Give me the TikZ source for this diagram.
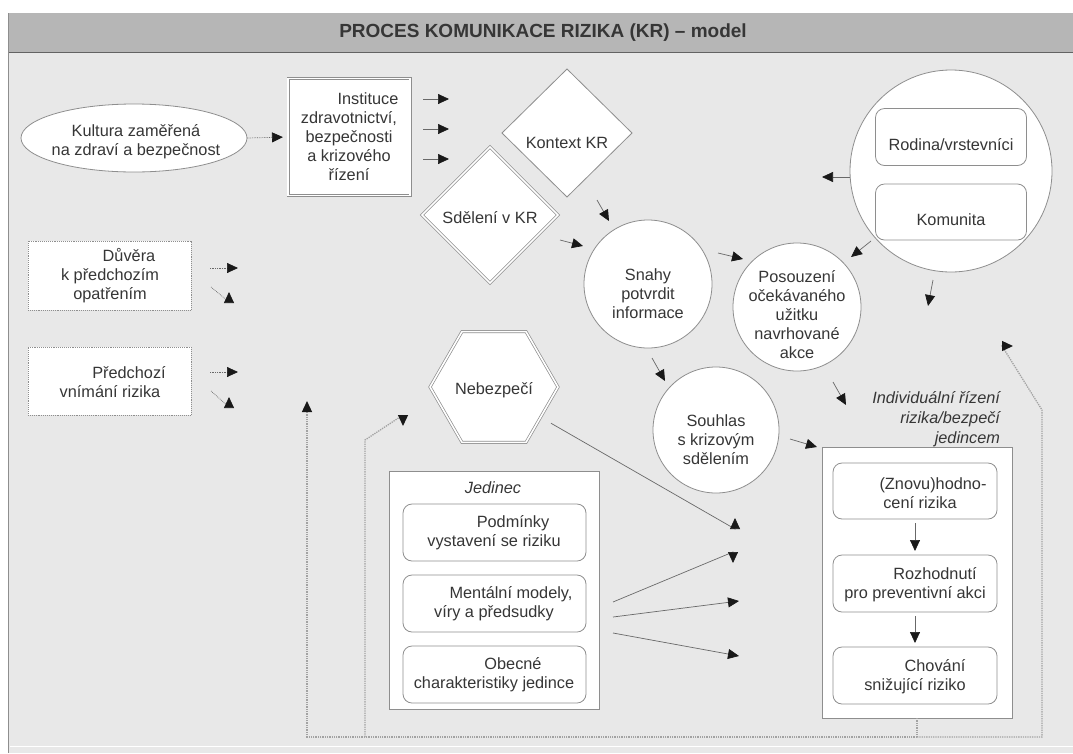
\documentclass[tikz,border=0pt]{standalone}
\usepackage{fontspec}
\setmainfont{Liberation Sans}
\usetikzlibrary{arrows.meta,shapes.geometric,calc}
\definecolor{canvas}{HTML}{E8E8E8}
\definecolor{headbar}{HTML}{B6B6B6}
\definecolor{edge}{HTML}{8E8E8E}
\definecolor{ink}{HTML}{363636}
\definecolor{feedline}{HTML}{A2A2A2}
\begin{document}
\begin{tikzpicture}[x=1pt,y=-1pt,
  every node/.style={inner sep=0pt,outer sep=0pt,text=ink,font=\fontsize{16.3}{19}\selectfont},
  >={Triangle[length=11pt,width=10pt,color=black!90]},
  shell/.style={draw=edge,fill=white,line width=0.8pt},
  twin/.style={draw=edge,fill=white,line width=0.7pt,double=white,double distance=1.6pt},
  roundbox/.style={shell,rounded corners=9pt},
  dotbox/.style={draw=edge,fill=white,densely dotted,line width=0.9pt},
  lines/.style={align=center},
  link/.style={draw=ink!75,line width=0.7pt,->},
  dotlink/.style={link,densely dotted},
  feed/.style={draw=feedline,densely dotted,line width=1.3pt},
  feedtip/.style={->},
  emph/.style={font=\fontsize{16.3}{20}\selectfont\itshape}
]
\useasboundingbox (0,0) rectangle (1073,753);

% sheet and title bar
\fill[canvas] (8,13) rectangle (1073,753);
\fill[headbar] (8,13) rectangle (1073,52);
\draw[edge!70!black,line width=1pt] (8,52.5) -- (1073,52.5);
\draw[edge,line width=1.2pt] (8.6,13) -- (8.6,753);
\draw[white,line width=0.8pt] (9.5,746.5) -- (1073,746.5);
\node[font=\fontsize{19}{22}\selectfont\bfseries] (title) at (543,33) {PROCES KOMUNIKACE RIZIKA (KR) – model};

% free ends of the short connectors
\coordinate (i1s) at (423,99);  \coordinate (i1e) at (449,99);
\coordinate (i2s) at (423,129); \coordinate (i2e) at (449,129);
\coordinate (i3s) at (423,159); \coordinate (i3e) at (449,159);
\coordinate (t1s) at (210,268); \coordinate (t1e) at (238,268);
\coordinate (t2s) at (211,287); \coordinate (t2m) at (229,302); \coordinate (t2e) at (229,292);
\coordinate (p1s) at (210,372); \coordinate (p1e) at (238,372);
\coordinate (p2s) at (211,391); \coordinate (p2m) at (229,407); \coordinate (p2e) at (229,397);
\coordinate (c1s) at (597,200); \coordinate (c1e) at (609,221);
\coordinate (m1s) at (560,240); \coordinate (m1e) at (583,246);
\coordinate (s1s) at (718,253); \coordinate (s1e) at (743,259);
\coordinate (g1s) at (871,241); \coordinate (g1e) at (851,257);
\coordinate (g2s) at (850,177); \coordinate (g2e) at (822,177);
\coordinate (g3s) at (933,280); \coordinate (g3e) at (928,306);
\coordinate (s2s) at (652,358); \coordinate (s2e) at (665,381);
\coordinate (e1s) at (833,382); \coordinate (e1e) at (846,405);
\coordinate (a1s) at (790,439); \coordinate (a1e) at (817,447);
\coordinate (h1m) at (735,529); \coordinate (h1e) at (735,518);
\coordinate (b1s) at (613,602); \coordinate (b1m) at (733,552); \coordinate (b1e) at (733,563);
\coordinate (b2s) at (613,617); \coordinate (b2e) at (739,601);
\coordinate (b3s) at (613,633); \coordinate (b3e) at (739,656);

% feedback loops along the bottom
\coordinate (fbmid) at (917,737);
\coordinate (fbleft) at (307,737);  \coordinate (fbleftup) at (307,401);
\coordinate (fbhaz) at (365,737);   \coordinate (fbhazup) at (365,440);
\coordinate (fbhazm) at (403,415);  \coordinate (fbhaze) at (403,426);
\coordinate (fbright) at (1042,737); \coordinate (fbrightup) at (1042,410);
\coordinate (fbrightm) at (1002,346); \coordinate (fbrighte) at (1013,346);

\draw[feed,feedtip] (fbmid) -- (fbleft) -- (fbleftup);
\draw[feed,feedtip] (fbhaz) -- (fbhazup) -- (fbhazm) -- (fbhaze);
\draw[feed,feedtip] (fbmid) -- (fbright) -- (fbrightup) -- (fbrightm) -- (fbrighte);

% culture and institutions
\node[ellipse,shell,minimum width=226pt,minimum height=68pt] (kult) at (134,138) {};
\node[lines] (kult-t) at (136,142) {Kultura zaměřená\\na zdraví a bezpečnost};
\node[twin,minimum width=122pt,minimum height=117pt,lines] (inst) at (349,137)
  {\hspace*{38pt}Instituce\\zdravotnictví,\\bezpečnosti\\a krizového\\řízení};
\draw[dotlink,shorten >=5pt] (kult.east) -- (inst.west);
\draw[link] (i1s) -- (i1e);
\draw[link] (i2s) -- (i2e);
\draw[link] (i3s) -- (i3e);

% earlier experience
\node[dotbox,minimum width=163pt,minimum height=69pt] (trust) at (109.5,275.5) {};
\node[lines] (trust-t) at (110,276) {\hspace*{38pt}Důvěra\\k předchozím\\opatřením};
\node[dotbox,minimum width=163pt,minimum height=68pt] (prior) at (109.5,381) {};
\node[lines] (prior-t) at (110,382) {\hspace*{38pt}Předchozí\\vnímání rizika};
\draw[dotlink] (t1s) -- (t1e);
\draw[dotlink] (t2s) -- (t2m) -- (t2e);
\draw[dotlink] (p1s) -- (p1e);
\draw[dotlink] (p2s) -- (p2m) -- (p2e);

% context and message
\node[diamond,shell,minimum width=130pt,minimum height=128pt] (ctx) at (567,133) {};
\node (ctx-t) at (567,143) {Kontext KR};
\node[diamond,twin,minimum width=136pt,minimum height=136pt] (msg) at (490,215) {};
\node (msg-t) at (490,218) {Sdělení v KR};

% processing circles
\node[circle,shell,minimum size=128pt] (conf) at (648,284) {};
\node[lines] (conf-t) at (648,294) {Snahy\\potvrdit\\informace};
\node[circle,shell,minimum size=128pt] (eval) at (797,307) {};
\node[lines] (eval-t) at (797,315) {Posouzení\\očekávaného\\užitku\\navrhované\\akce};
\node[circle,shell,minimum size=126pt] (agree) at (716,430) {};
\node[lines] (agree-t) at (716,440) {Souhlas\\s krizovým\\sdělením};

% social surroundings
\node[circle,shell,minimum size=202pt] (social) at (951,171) {};
\node[roundbox,minimum width=151pt,minimum height=57pt] (family) at (951,137) {};
\node (family-t) at (951,145) {Rodina/vrstevníci};
\node[roundbox,minimum width=151pt,minimum height=56pt] (community) at (951,212) {};
\node (community-t) at (951,220) {Komunita};

\draw[link] (c1s) -- (c1e);
\draw[link] (m1s) -- (m1e);
\draw[link] (s1s) -- (s1e);
\draw[link] (g1s) -- (g1e);
\draw[link] (g2s) -- (g2e);
\draw[link] (g3s) -- (g3e);
\draw[link] (s2s) -- (s2e);
\draw[link] (e1s) -- (e1e);
\draw[link] (a1s) -- (a1e);

% hazard
\node[regular polygon,regular polygon sides=6,twin,minimum size=128pt] (hazard) at (494,387) {};
\node (hazard-t) at (494,390) {Nebezpečí};
\draw[link,shorten <=12pt] (hazard.-33) -- (h1m) -- (h1e);

% the individual
\node[shell,minimum width=210pt,minimum height=238pt] (person) at (494,590) {};
\node[emph] (person-t) at (493,488) {Jedinec};
\node[roundbox,minimum width=183pt,minimum height=57pt] (expo) at (494.5,532.5) {};
\node[lines] (expo-t) at (494,533) {\hspace*{38pt}Podmínky\\vystavení se riziku};
\node[roundbox,minimum width=183pt,minimum height=57pt] (beliefs) at (494.5,603.5) {};
\node[lines] (beliefs-t) at (494,604) {\hspace*{34pt}Mentální modely,\\víry a předsudky};
\node[roundbox,minimum width=183pt,minimum height=57pt] (traits) at (494.5,674.5) {};
\node[lines] (traits-t) at (494,675) {\hspace*{38pt}Obecné\\charakteristiky jedince};

\draw[link] (b1s) -- (b1m) -- (b1e);
\draw[link] (b2s) -- (b2e);
\draw[link] (b3s) -- (b3e);

% individual risk management
\node[emph,lines,align=right,anchor=east] (indiv-t) at (1000,419) {Individuální řízení\\rizika/bezpečí\\jedincem};
\node[shell,minimum width=190pt,minimum height=271pt] (indiv) at (917,582.5) {};
\node[roundbox,minimum width=164pt,minimum height=56pt] (reval) at (915,491) {};
\node[lines] (reval-t) at (920,493) {\hspace*{26pt}(Znovu)hodno-\\cení rizika};
\node[roundbox,minimum width=164pt,minimum height=57pt] (decide) at (915,583.5) {};
\node[lines] (decide-t) at (915,585) {\hspace*{40pt}Rozhodnutí\\pro preventivní akci};
\node[roundbox,minimum width=164pt,minimum height=57pt] (act) at (915,675.5) {};
\node[lines] (act-t) at (915,677) {\hspace*{40pt}Chování\\snižující riziko};
\draw[link,shorten <=4pt,shorten >=4pt] (reval) -- (decide);
\draw[link,shorten <=4pt,shorten >=4pt] (decide) -- (act);
\draw[feed] (indiv.south) -- (fbmid);

\end{tikzpicture}
\end{document}
